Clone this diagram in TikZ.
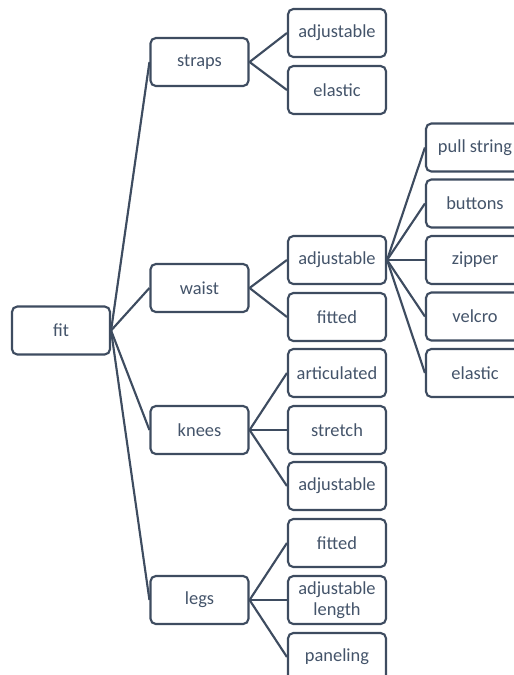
\documentclass[tikz,border=0pt]{standalone}
\usepackage{fontspec}
\setmainfont{Carlito}
\definecolor{lc}{HTML}{3E4C60}
\definecolor{tc}{HTML}{44546A}
\begin{document}
\begin{tikzpicture}[x=0.75pt,y=-0.75pt,
  box/.style={draw=lc,line width=1.6pt,rounded corners=4pt,fill=white,
    minimum width=73.5pt,minimum height=36pt,inner sep=1pt,align=center,
    text=tc,font=\fontsize{13.8pt}{15.5pt}\selectfont},
  link/.style={draw=lc,line width=1.6pt}]
\useasboundingbox (0,0) rectangle (514,675);
\clip (0,0) rectangle (514,675);
\node[box] (fit) at (61,330.5) {fit};
\node[box] (straps) at (199.5,62) {straps};
\node[box] (waist) at (199.5,288) {waist};
\node[box] (knees) at (199.5,430) {knees};
\node[box] (legs) at (199.5,600) {legs};
\node[box] (sadj) at (337,33) {adjustable};
\node[box] (sel) at (337,90) {elastic};
\node[box] (wadj) at (337,260) {adjustable};
\node[box] (wfit) at (337,317) {fitted};
\node[box] (kart) at (337,373) {articulated};
\node[box] (kstr) at (337,430) {stretch};
\node[box] (kadj) at (337,486) {adjustable};
\node[box] (lfit) at (337,543) {fitted};
\node[box] (llen) at (337,600) {adjustable\\length};
\node[box] (lpan) at (337,657) {paneling};
\node[box] (pull) at (475,147.5) {pull string};
\node[box] (butt) at (475,203.5) {buttons};
\node[box] (zip) at (475,260) {zipper};
\node[box] (vel) at (475,316.5) {velcro};
\node[box] (wel) at (475,373) {elastic};
\foreach \c in {straps,waist,knees,legs} \draw[link] (fit.east) -- (\c.west);
\foreach \c in {sadj,sel} \draw[link] (straps.east) -- (\c.west);
\foreach \c in {wadj,wfit} \draw[link] (waist.east) -- (\c.west);
\foreach \c in {kart,kstr,kadj} \draw[link] (knees.east) -- (\c.west);
\foreach \c in {lfit,llen,lpan} \draw[link] (legs.east) -- (\c.west);
\foreach \c in {pull,butt,zip,vel,wel} \draw[link] (wadj.east) -- (\c.west);
\end{tikzpicture}
\end{document}
